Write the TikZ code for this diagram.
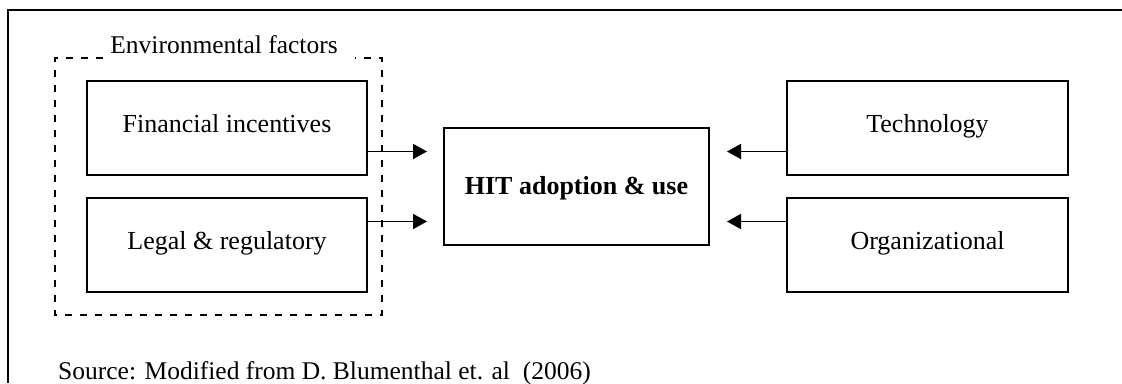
\documentclass[tikz,border=0pt]{standalone}
\usepackage{fontspec}
\setmainfont{Liberation Serif}
\usetikzlibrary{arrows.meta,calc}

\tikzset{
  lw/.style={line width=2pt},
  factor/.style={draw, lw, rectangle, minimum width=280pt, minimum height=94pt,
    inner sep=0pt, text height=18pt, text depth=10pt,
    font=\fontsize{26pt}{30pt}\selectfont},
  core/.style={draw, lw, rectangle, minimum width=265pt, minimum height=117pt,
    inner sep=0pt, text height=20pt, text depth=5pt,
    font=\fontsize{26pt}{30pt}\selectfont\bfseries},
  arr/.style={line width=1.7pt, -{Triangle[length=14pt, width=15pt]}},
  grouping/.style={line width=1.8pt, dash pattern=on 7pt off 8pt},
  caption/.style={inner sep=0pt, font=\fontsize{25.5pt}{30pt}\selectfont}
}

\begin{document}
\begin{tikzpicture}[x=1pt, y=-1pt]
  \useasboundingbox (0,0) rectangle (1122,383);

  % frame: top and left edges
  \draw[lw] (1122,10) -- (7.5,10) -- (7.5,383);

  % environmental factors group
  \node[caption, anchor=base] (envlabel) at (224,53.3) {Environmental factors};
  \draw[grouping] (103,58) -- (55,58) -- (55,315) -- (382,315) -- (382,58) -- (355,58);

  % factor boxes
  \node[factor] (fin) at (227,128) {Financial incentives};
  \node[factor] (legal) at (227,245) {Legal \& regulatory};
  \node[factor, minimum width=281pt] (tech) at (927.5,128) {Technology};
  \node[factor, minimum width=281pt] (org) at (927.5,245) {Organizational};

  % central box
  \node[core] (hit) at (576.5,186.5) {HIT adoption \& use};

  % arrow end points beside the central box
  \coordinate (inA) at ([xshift=-16pt, yshift=35pt]hit.west);
  \coordinate (inB) at ([xshift=-16pt, yshift=-35pt]hit.west);
  \coordinate (inC) at ([xshift=17pt, yshift=35pt]hit.east);
  \coordinate (inD) at ([xshift=17pt, yshift=-35pt]hit.east);

  \draw[arr] (fin.east |- inA) -- (inA);
  \draw[arr] (legal.east |- inB) -- (inB);
  \draw[arr] (tech.west |- inC) -- (inC);
  \draw[arr] (org.west |- inD) -- (inD);

  % source note
  \node[caption, anchor=base west] (source) at (58,379) {Source: Modified from D. Blumenthal et. al\ \ (2006)};
\end{tikzpicture}
\end{document}
